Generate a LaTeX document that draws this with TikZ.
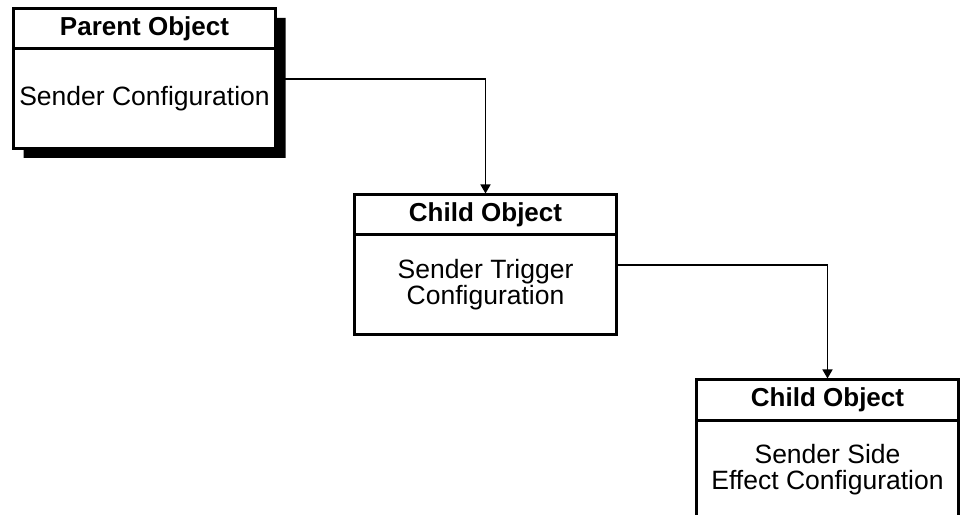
\documentclass[tikz,border=0pt]{standalone}
\usepackage{fontspec}
\setmainfont{Liberation Sans}
\usetikzlibrary{positioning, arrows.meta, shapes.multipart, shadows}
\tikzstyle{objbox} = [rectangle split, rectangle split parts=2, draw=black, line width=3pt, inner sep=0pt, fill=white]
\tikzstyle{arrow} = [line width=1.5pt, -{Triangle[width=10pt, length=9pt]}]
\newcommand{\objhead}[1]{\parbox[c][37pt][c]{262pt}{\centering\fontsize{26}{26}\selectfont\bfseries #1}}
\newcommand{\objbody}[1]{\parbox[c][97pt][c]{262pt}{\centering\fontsize{26.5}{26}\selectfont #1}}

\begin{document}
\begin{tikzpicture}[x=1pt, y=1pt]
        \useasboundingbox (0,0) rectangle (963,514);
        \node (parent) [objbox, drop shadow={shadow xshift=10pt, shadow yshift=-9pt, fill=black, opacity=1}] at (144.5,435)
            {\objhead{Parent Object}\nodepart{two}\objbody{Sender Configuration}};
        \node (trigger) [objbox, below right=43pt and 76pt of parent]
            {\objhead{Child Object}\nodepart{two}\objbody{Sender Trigger\\Configuration}};
        \node (effect) [objbox, below right=42pt and 77pt of trigger]
            {\objhead{Child Object}\nodepart{two}\objbody{Sender Side\\Effect Configuration}};
        \draw [arrow] (parent.east) -| (trigger.north);
        \draw [arrow] (trigger.east) -| (effect.north);
\end{tikzpicture}
\end{document}
